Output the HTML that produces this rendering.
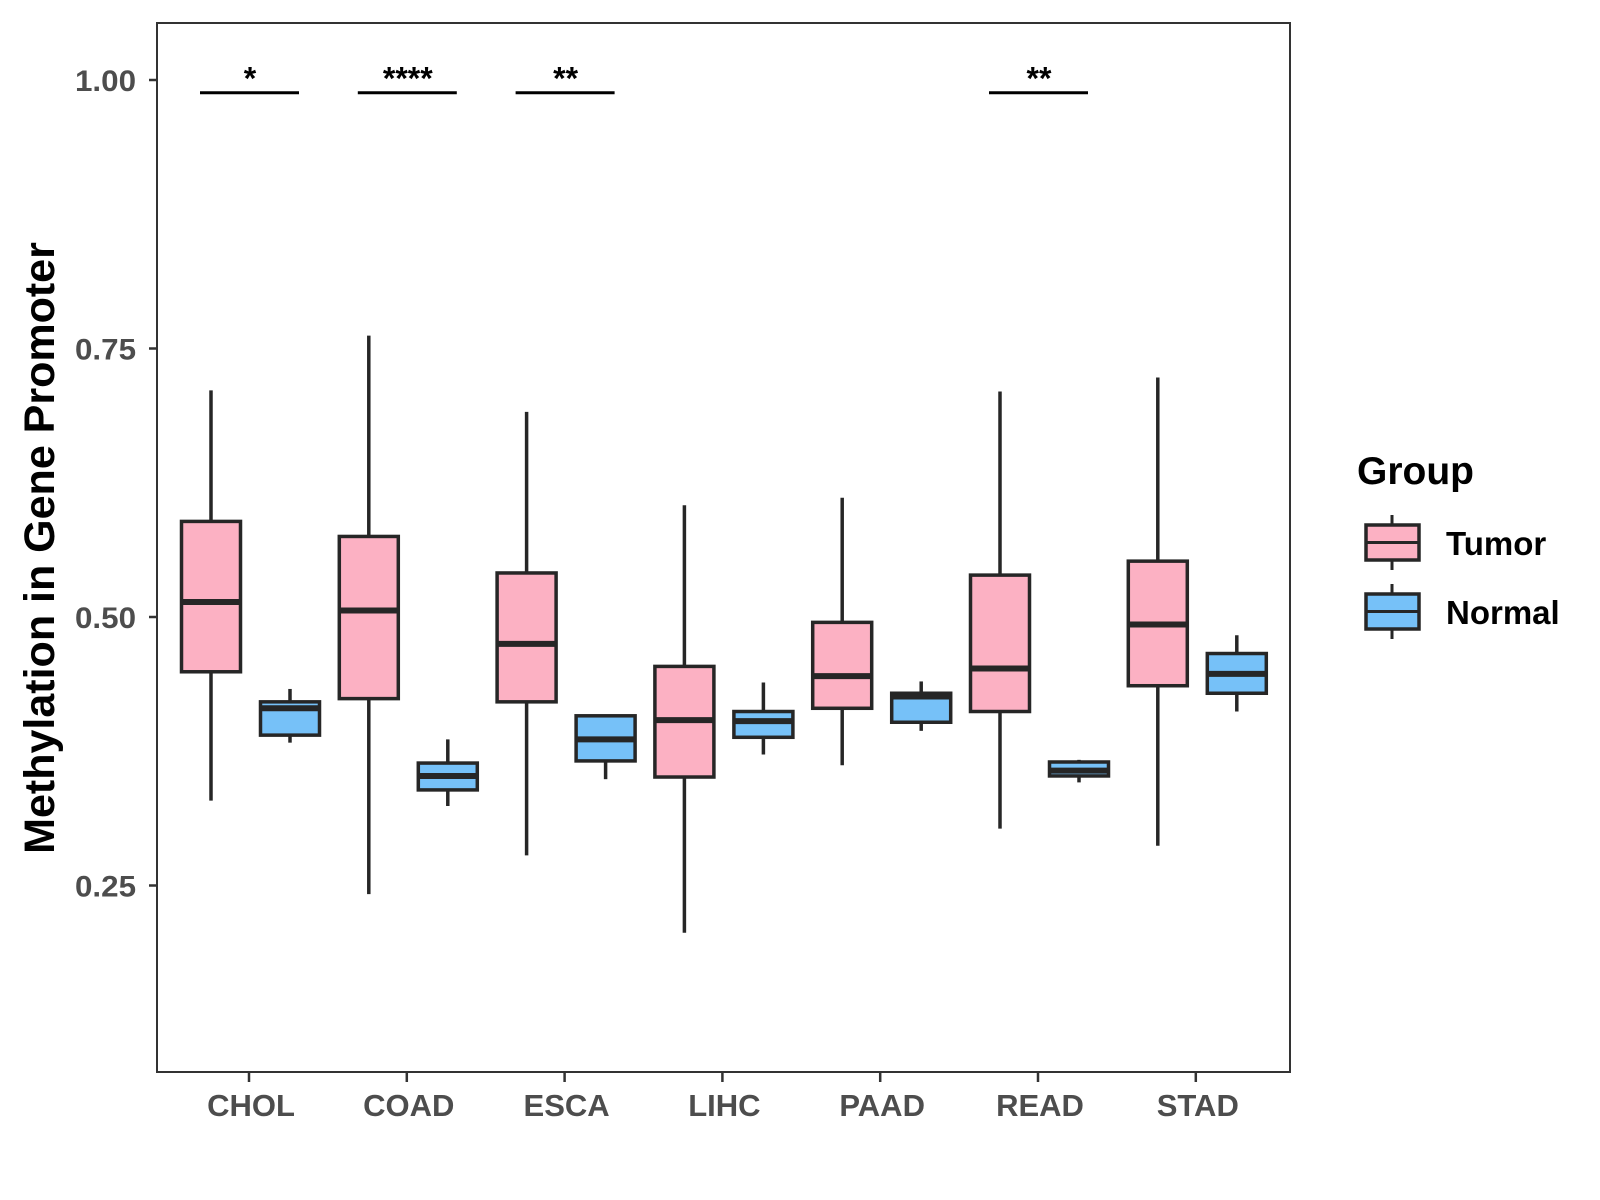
<!DOCTYPE html>
<html><head><meta charset="utf-8"><style>
body{margin:0;background:#fff}
svg{display:block;font-family:"Liberation Sans",Arial,sans-serif}
</style></head><body>
<svg id="chart" width="1600" height="1200" xmlns="http://www.w3.org/2000/svg">
<g id="plot"></g>
</svg>
<script>
const categories=["CHOL","COAD","ESCA","LIHC","PAAD","READ","STAD"];
const groups=["Tumor","Normal"];
// [lowerWhisker, Q1, median, Q3, upperWhisker]
const tumorStats=[[0.329,0.449,0.514,0.589,0.711],[0.242,0.424,0.506,0.575,0.762],[0.278,0.421,0.475,0.541,0.691],[0.206,0.351,0.404,0.454,0.604],[0.362,0.415,0.445,0.495,0.611],[0.303,0.412,0.452,0.539,0.710],[0.287,0.436,0.493,0.552,0.723]];
const normalStats=[[0.383,0.390,0.415,0.421,0.433],[0.324,0.339,0.352,0.364,0.386],[0.349,0.366,0.386,0.408,0.408],[0.372,0.388,0.403,0.412,0.439],[0.394,0.402,0.426,0.429,0.440],[0.346,0.352,0.357,0.365,0.367],[0.412,0.429,0.447,0.466,0.483]];
const yTicks=[0.25,0.5,0.75,1.0];
const yTickLabels=["0.25","0.50","0.75","1.00"];
const sigCategories=["CHOL","COAD","ESCA","READ"];
const sigLabels=["*","****","**","**"];
const sigValue=0.99;

const NS="http://www.w3.org/2000/svg";
const g=document.getElementById('plot');
const P={l:157,r:1290,t:23,b:1072};
function y(v){return 80+(1-v)*1074;}
function x(i){return 249+i*157.8;}
function el(tag,attrs,text){const e=document.createElementNS(NS,tag);for(const k in attrs)e.setAttribute(k,attrs[k]);if(text!==undefined)e.textContent=text;g.appendChild(e);return e;}
const dark="#262626",cols={Tumor:"#fcb1c3",Normal:"#76c1f8"};

yTicks.forEach((t,i)=>{
  const tk=el('line',{x1:P.l-8,x2:P.l,y1:y(t),y2:y(t),stroke:"#333","stroke-width":2.5});
  
  
  const lb=el('text',{x:P.l-21,y:y(t)+11,"text-anchor":"end","font-size":30,"font-weight":"bold",fill:"#4d4d4d","textLength":61,"lengthAdjust":"spacingAndGlyphs"},yTickLabels[i]);
  
  
});
categories.forEach((c,i)=>{
  const tk=el('line',{x1:x(i),x2:x(i),y1:P.b,y2:P.b+10,stroke:"#333","stroke-width":2.5});
  
  
  const lb=el('text',{x:x(i)+2,y:P.b+44,"text-anchor":"middle","font-size":31,"font-weight":"bold",fill:"#4d4d4d"},c);
  
  
});

function box(cx,s,fill,name){
  const w=59;
  const wh=el('line',{x1:cx,x2:cx,y1:y(s[0]),y2:y(s[4]),stroke:dark,"stroke-width":3.5});
  
  
  const r=el('rect',{x:cx-w/2,y:y(s[3]),width:w,height:y(s[1])-y(s[3]),fill:fill,stroke:dark,"stroke-width":3.5});
  
  
  const m=el('line',{x1:cx-w/2,x2:cx+w/2,y1:y(s[2]),y2:y(s[2]),stroke:dark,"stroke-width":6});
  
  
}
categories.forEach((c,i)=>{
  box(x(i)-38,tumorStats[i],cols.Tumor,c.toLowerCase()+'-tumor');
  box(x(i)+41,normalStats[i],cols.Normal,c.toLowerCase()+'-normal');
});
sigCategories.forEach((c,k)=>{
  const i=categories.indexOf(c);
  const ln=el('line',{x1:x(i)-49,x2:x(i)+50,y1:y(sigValue)+2,y2:y(sigValue)+2,stroke:"#000","stroke-width":3});
  
  
  const t=el('text',{x:x(i)+1,y:y(sigValue)-1,"text-anchor":"middle","font-size":32,"font-weight":"bold",fill:"#000"},sigLabels[k]);
  
  
});
const fr=el('rect',{x:P.l,y:P.t,width:P.r-P.l,height:P.b-P.t,fill:"none",stroke:"#333","stroke-width":2});


const yt=el('text',{x:0,y:0,transform:"translate(54,548) rotate(-90)","text-anchor":"middle","font-size":43,"font-weight":"bold",fill:"#000"},"Methylation in Gene Promoter");


const lt=el('text',{x:1357,y:484,"font-size":39,"font-weight":"bold",fill:"#000"},"Group");


groups.forEach((gname,k)=>{
  const top=525+k*69, cx=1392;
  const w1=el('line',{x1:cx,x2:cx,y1:top-10,y2:top+45,stroke:dark,"stroke-width":3});
  
  
  const r=el('rect',{x:1366,y:top,width:53,height:35,fill:cols[gname],stroke:dark,"stroke-width":3.5});
  
  
  const m=el('line',{x1:1366,x2:1419,y1:top+17.5,y2:top+17.5,stroke:dark,"stroke-width":3});
  
  
  const t=el('text',{x:1446,y:top+30,"font-size":33,"font-weight":"bold",fill:"#000"},gname);
  
  
});
</script>
</body></html>
